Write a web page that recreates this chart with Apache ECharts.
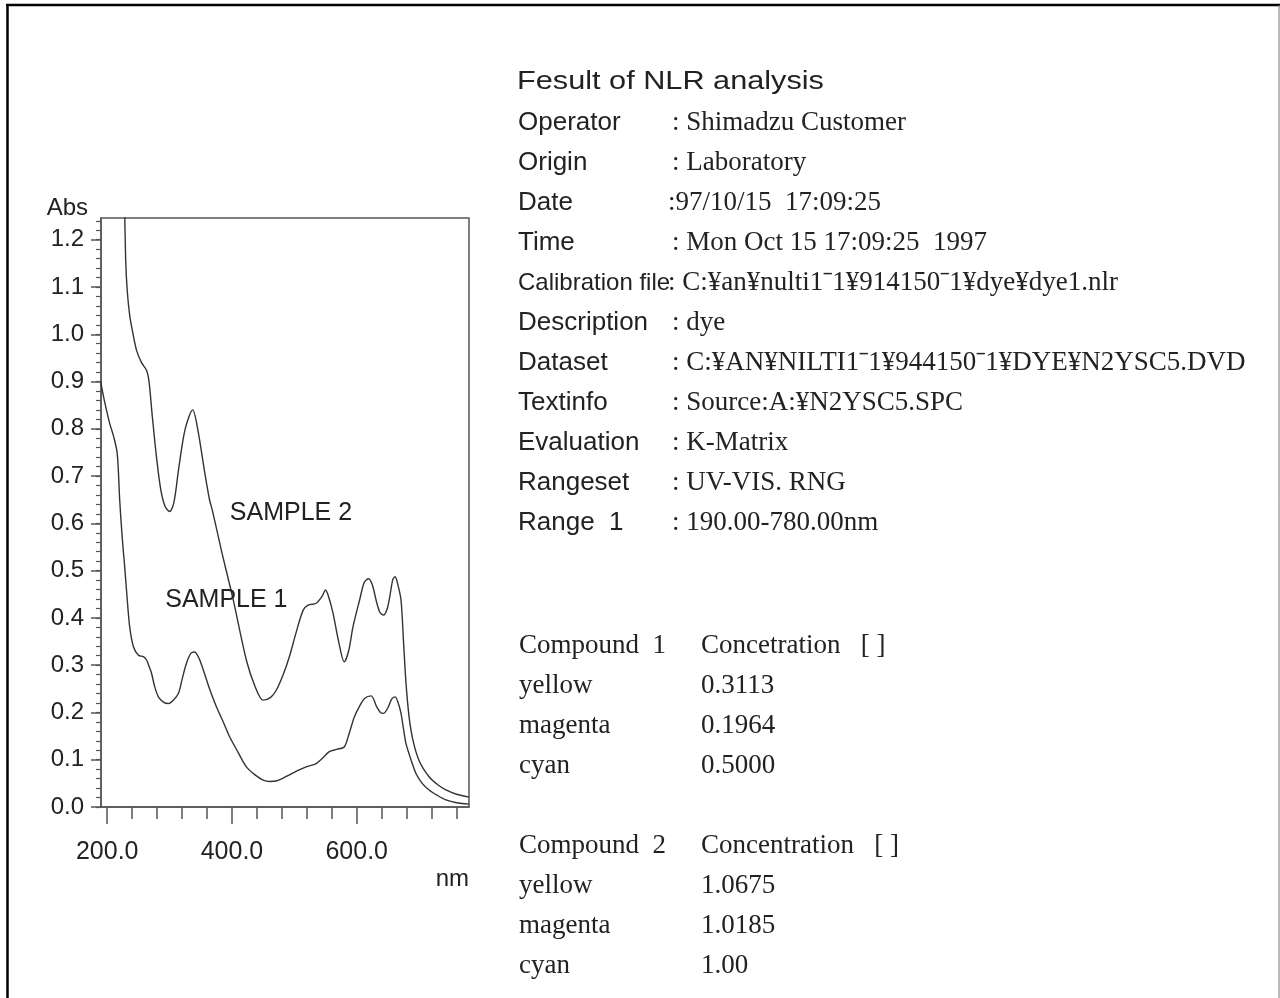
<!DOCTYPE html>
<html>
<head>
<meta charset="utf-8">
<script src="https://cdn.jsdelivr.net/npm/echarts@6/dist/echarts.min.js"></script>
<style>
  html, body { margin: 0; padding: 0; background: #fff; }
  #main { width: 1280px; height: 998px; }
</style>
</head>
<body>
<div id="main"></div>
<script>
// spectrum, sample 1 (lower curve)
const s1Nm  = [190, 191, 197, 204, 210, 216, 220, 224, 228, 232, 236, 242, 250, 258, 263, 267, 271, 276, 282, 290,
               298, 306, 314, 320, 327, 334, 340, 347, 354, 364, 375, 386, 396, 410, 423, 437, 450, 460, 471, 482,
               492, 505, 519, 535, 545, 556, 568, 580, 588, 596, 604, 613, 623, 632, 638, 643, 650, 656, 661.5, 666,
               671, 675, 679, 687, 695, 705, 716, 730, 743, 760, 780];
const s1Abs = [0.90, 0.889, 0.85, 0.811, 0.785, 0.748, 0.649, 0.57, 0.508, 0.44, 0.381, 0.339, 0.321, 0.318, 0.311, 0.298, 0.283, 0.255, 0.233, 0.222,
               0.219, 0.226, 0.24, 0.27, 0.304, 0.325, 0.328, 0.315, 0.29, 0.25, 0.212, 0.18, 0.149, 0.115, 0.085, 0.068, 0.057, 0.054, 0.055, 0.061,
               0.068, 0.077, 0.085, 0.092, 0.103, 0.117, 0.122, 0.127, 0.156, 0.19, 0.212, 0.23, 0.235, 0.212, 0.2, 0.198, 0.21, 0.228, 0.233, 0.222,
               0.198, 0.165, 0.134, 0.1, 0.071, 0.05, 0.036, 0.024, 0.015, 0.009, 0.006];

// spectrum, sample 2 (upper curve)
const s2Nm  = [227.5, 229.5, 232, 236, 240, 247, 255, 263, 267, 272, 279, 286, 293, 300, 307, 315, 325, 337, 345, 356,
               364, 369, 383, 402, 423, 437, 450, 462, 471, 482, 492, 503, 514, 522, 535, 544, 550, 556, 562, 571,
               580, 587, 594, 605, 612, 619, 625, 631, 637, 643, 649, 653, 658, 661.5, 666, 671, 675, 679, 684, 690,
               700, 716, 730, 743, 760, 780];
const s2Abs = [1.30, 1.16, 1.093, 1.04, 1.01, 0.966, 0.94, 0.924, 0.90, 0.83, 0.74, 0.67, 0.635, 0.625, 0.645, 0.72, 0.80, 0.84, 0.80, 0.71,
               0.65, 0.625, 0.543, 0.438, 0.311, 0.255, 0.226, 0.232, 0.247, 0.28, 0.318, 0.37, 0.416, 0.427, 0.431, 0.445, 0.459, 0.44, 0.41, 0.35,
               0.307, 0.33, 0.381, 0.44, 0.475, 0.483, 0.47, 0.438, 0.412, 0.406, 0.42, 0.445, 0.482, 0.487, 0.47, 0.438, 0.35, 0.262, 0.19, 0.142,
               0.098, 0.064, 0.047, 0.036, 0.027, 0.021];

// axis ticks
const xMajorTicks = [200, 400, 600];
const xMinorTicks = [200, 240, 280, 320, 360, 400, 440, 480, 520, 560, 600, 640, 680, 720, 760];
const yMajorTicks = [0, 0.1, 0.2, 0.3, 0.4, 0.5, 0.6, 0.7, 0.8, 0.9, 1.0, 1.1, 1.2];
const yMinorTicks = [];
for (let i = 0; i <= 62; i++) yMinorTicks.push(+(i * 0.02).toFixed(2));

// report text
const reportTitle = 'Fesult of NLR analysis';
const infoLabels = ['Operator', 'Origin', 'Date', 'Time', 'Calibration file', 'Description',
                    'Dataset', 'Textinfo', 'Evaluation', 'Rangeset', 'Range  1'];
const infoValues = [': Shimadzu Customer', ': Laboratory', ':97/10/15  17:09:25', ': Mon Oct 15 17:09:25  1997',
                    ': C:¥an¥nulti1ˉ1¥914150ˉ1¥dye¥dye1.nlr', ': dye', ': C:¥AN¥NILTI1ˉ1¥944150ˉ1¥DYE¥N2YSC5.DVD',
                    ': Source:A:¥N2YSC5.SPC', ': K-Matrix', ': UV-VIS. RNG', ': 190.00-780.00nm'];
const dyeNames = ['yellow', 'magenta', 'cyan'];
const conc1 = ['0.3113', '0.1964', '0.5000'];
const conc2 = ['1.0675', '1.0185', '1.00'];

const sans = '"Liberation Sans", Arial, sans-serif';
const serif = '"Liberation Serif", "Times New Roman", serif';
const ink = '#222';
const axisColor = '#555';

const s1Data = s1Nm.map((x, i) => [x, s1Abs[i]]);
const s2Data = s2Nm.map((x, i) => [x, s2Abs[i]]);

// text block on the right
const graphics = [];
graphics.push({ type: 'text', x: 517, y: 82, scaleX: 1.18, style: { text: reportTitle, font: '26px ' + sans, fill: ink, verticalAlign: 'middle' } });
infoLabels.forEach((lab, i) => {
    const y = 123 + i * 40;
    graphics.push({ type: 'text', x: 518, y: y, style: { text: lab, font: (i === 4 ? '24px ' : '26px ') + sans, fill: ink, verticalAlign: 'middle' } });
    const vx = (i === 2 || i === 4) ? 668 : 672;
    graphics.push({ type: 'text', x: vx, y: y, style: { text: infoValues[i], font: '27px ' + serif, fill: ink, verticalAlign: 'middle' } });
});
const addTable = (top, num, head, vals) => {
    graphics.push({ type: 'text', x: 519, y: top, style: { text: 'Compound  ' + num, font: '27px ' + serif, fill: ink, verticalAlign: 'middle' } });
    graphics.push({ type: 'text', x: 701, y: top, style: { text: head, font: '27px ' + serif, fill: ink, verticalAlign: 'middle' } });
    dyeNames.forEach((n, i) => {
        graphics.push({ type: 'text', x: 519, y: top + 40 * (i + 1), style: { text: n, font: '27px ' + serif, fill: ink, verticalAlign: 'middle' } });
        graphics.push({ type: 'text', x: 701, y: top + 40 * (i + 1), style: { text: vals[i], font: '27px ' + serif, fill: ink, verticalAlign: 'middle' } });
    });
};
addTable(646, 1, 'Concetration   [ ]', conc1);
addTable(846, 2, 'Concentration   [ ]', conc2);

// page frame
graphics.push({ type: 'line', shape: { x1: 6, y1: 5, x2: 1280, y2: 5 }, style: { stroke: '#000', lineWidth: 2.5 } });
graphics.push({ type: 'line', shape: { x1: 7.5, y1: 5, x2: 7.5, y2: 998 }, style: { stroke: '#000', lineWidth: 2.5 } });
graphics.push({ type: 'line', shape: { x1: 1279, y1: 5, x2: 1279, y2: 998 }, style: { stroke: '#777', lineWidth: 1 } });

const chartDom = document.getElementById('main');
const myChart = echarts.init(chartDom);
const option = {
    animation: false,
    backgroundColor: '#fff',
    grid: {
        left: 101, right: 811, top: 218, bottom: 191,
        show: true, borderColor: axisColor, borderWidth: 1.5
    },
    xAxis: [
        {
            type: 'value', min: 190, max: 780, position: 'bottom',
            name: 'nm', nameLocation: 'end', nameGap: 0,
            nameTextStyle: { fontFamily: sans, fontSize: 24, color: ink, align: 'right', verticalAlign: 'top', padding: [60, 0, 0, 0] },
            axisLine: { show: true, lineStyle: { color: axisColor, width: 1.5 } },
            axisTick: { show: true, customValues: xMajorTicks, length: 17, lineStyle: { color: axisColor, width: 1.5 } },
            axisLabel: { customValues: xMajorTicks, formatter: v => v.toFixed(1), fontFamily: sans, fontSize: 25, color: ink, margin: 33 },
            splitLine: { show: false }
        },
        {
            type: 'value', min: 190, max: 780, position: 'bottom', offset: 0,
            axisLine: { show: false },
            axisTick: { show: true, customValues: xMinorTicks, length: 12, lineStyle: { color: axisColor, width: 1.5 } },
            axisLabel: { show: false },
            splitLine: { show: false }
        }
    ],
    yAxis: [
        {
            type: 'value', min: 0, max: 1.246, position: 'left',
            name: 'Abs', nameLocation: 'end', nameGap: 0,
            nameTextStyle: { fontFamily: sans, fontSize: 24, color: ink, align: 'right', verticalAlign: 'bottom', padding: [0, 13, -2, 0] },
            axisLine: { show: true, lineStyle: { color: axisColor, width: 1.5 } },
            axisTick: { show: true, customValues: yMajorTicks, length: 10, lineStyle: { color: axisColor, width: 1.5 } },
            axisLabel: { customValues: yMajorTicks, formatter: v => v.toFixed(1), fontFamily: sans, fontSize: 24, color: ink, margin: 17 },
            splitLine: { show: false }
        },
        {
            type: 'value', min: 0, max: 1.246, position: 'left', offset: 0,
            axisLine: { show: false },
            axisTick: { show: true, customValues: yMinorTicks, length: 5, lineStyle: { color: axisColor, width: 1.2 } },
            axisLabel: { show: false },
            splitLine: { show: false }
        }
    ],
    series: [
        {
            name: 'SAMPLE 1', type: 'line', data: s1Data, smooth: 0.3, showSymbol: false, clip: true,
            lineStyle: { color: '#333', width: 1.4 },
            markPoint: {
                symbol: 'circle', symbolSize: 1, itemStyle: { color: 'transparent' },
                label: { show: true, position: 'inside', formatter: 'SAMPLE 1', fontFamily: sans, fontSize: 25, color: ink },
                data: [{ coord: [391, 0.438] }]
            }
        },
        {
            name: 'SAMPLE 2', type: 'line', data: s2Data, smooth: 0.3, showSymbol: false, clip: true,
            lineStyle: { color: '#333', width: 1.4 },
            markPoint: {
                symbol: 'circle', symbolSize: 1, itemStyle: { color: 'transparent' },
                label: { show: true, position: 'inside', formatter: 'SAMPLE 2', fontFamily: sans, fontSize: 25, color: ink },
                data: [{ coord: [494.5, 0.622] }]
            }
        }
    ],
    graphic: graphics
};
option && myChart.setOption(option);
</script>
</body>
</html>
